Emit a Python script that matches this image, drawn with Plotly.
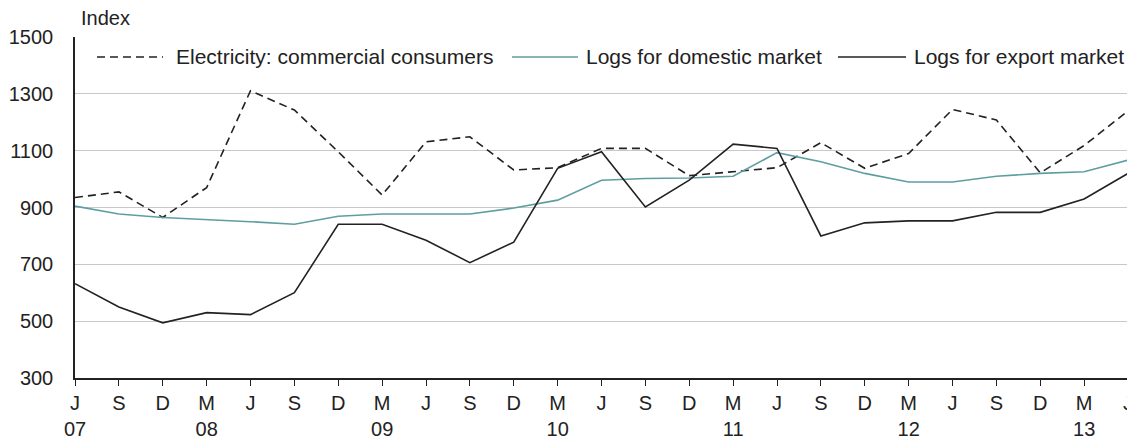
import plotly.graph_objects as go

months = ["J", "S", "D", "M"] * 6 + ["J"]
years = {0: "07", 3: "08", 7: "09", 11: "10", 15: "11", 19: "12", 23: "13"}
tick_labels = [m + ("<br>" + years[i] if i in years else "<br> ") for i, m in enumerate(months)]
x_idx = list(range(25))

series_names = ["Electricity: commercial consumers", "Logs for domestic market", "Logs for export market"]
electricity = [935, 955, 865, 970, 1311, 1243, 1096, 944, 1131, 1149, 1032, 1040,
               1108, 1108, 1012, 1025, 1040, 1128, 1038, 1090, 1245, 1208, 1022, 1118, 1240]
domestic = [905, 877, 865, 858, 850, 841, 869, 877, 877, 877, 898, 926,
            996, 1002, 1004, 1010, 1093, 1061, 1020, 990, 990, 1010, 1020, 1026, 1067]
export = [632, 550, 494, 530, 523, 600, 841, 841, 785, 706, 778, 1038,
          1096, 902, 996, 1123, 1108, 800, 846, 853, 853, 883, 883, 930, 1020]

styles = [dict(color="#222222", width=1.6, dash="8px,5px"),
          dict(color="#5f9ea0", width=1.6, dash="solid"),
          dict(color="#222222", width=1.6, dash="solid")]

# page body has an 8px default margin; compensate so the screenshot matches
OFF = 8
W, H = 1135 - OFF, 439 - OFF
L, R, T, B = 75 - OFF, 7, 37 - OFF, 61
pw, ph = W - L - R, H - T - B

def px_x(p):
    return (p - OFF - L) / pw

def px_y(p):
    return (H - B - (p - OFF)) / ph

fig = go.Figure()
for name, vals, st in zip(series_names, [electricity, domestic, export], styles):
    fig.add_trace(go.Scatter(x=x_idx, y=vals, mode="lines", name=name,
                             line=st, showlegend=False))

font_family = "Liberation Sans, Arial, sans-serif"
fig.update_layout(
    width=W, height=H,
    margin=dict(l=L, r=R, t=T, b=B),
    paper_bgcolor="white", plot_bgcolor="white",
    font=dict(family=font_family, size=20, color="#222222"),
    xaxis=dict(range=[0, 24], tickmode="array", tickvals=x_idx, ticktext=tick_labels,
               showgrid=False, showline=True, linecolor="#222222", linewidth=1.5,
               ticks="outside", ticklen=6, tickcolor="#222222", tickwidth=1.2,
               zeroline=False, automargin=False, ticklabeloverflow="allow",
               tickfont=dict(size=20)),
    yaxis=dict(range=[300, 1500], tickvals=[300, 500, 700, 900, 1100, 1300, 1500],
               showgrid=True, gridcolor="#c8c8c8", gridwidth=1,
               showline=True, linecolor="#222222", linewidth=1.5,
               ticks="", zeroline=False, ticklabelstandoff=16, automargin=False,
               tickfont=dict(size=20)),
)

# manual legend (line samples + text)
legend_y = px_y(57)
legend_items = [(97, 163, 174), (512, 578, 584), (838, 906, 912)]
for (x0, x1, xt), name, st in zip(legend_items, series_names, styles):
    fig.add_shape(type="line", xref="paper", yref="paper",
                  x0=px_x(x0), x1=px_x(x1), y0=legend_y, y1=legend_y,
                  line=dict(color=st["color"], width=st["width"], dash=st["dash"]))
    fig.add_annotation(text=name, xref="paper", yref="paper", x=px_x(xt), y=legend_y,
                       xanchor="left", yanchor="middle", showarrow=False,
                       font=dict(size=21, family=font_family, color="#222222"))

fig.add_annotation(text="Index", xref="paper", yref="paper", x=px_x(79), y=1, yshift=6,
                   xanchor="left", yanchor="bottom", showarrow=False,
                   font=dict(size=20, family=font_family, color="#222222"))

fig.write_html("out.html")
